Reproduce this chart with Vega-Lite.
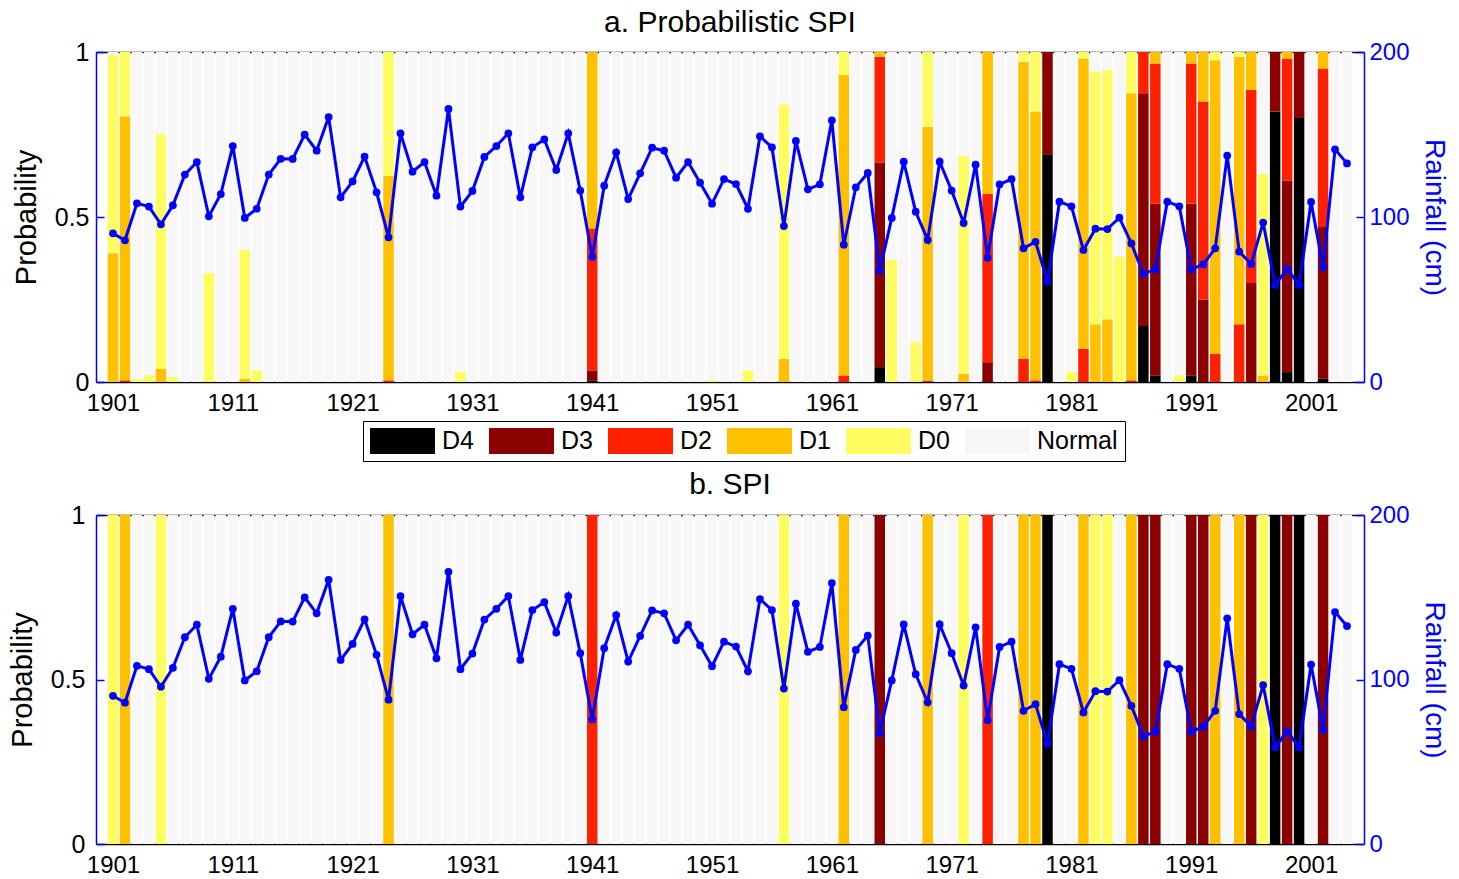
{
  "$schema": "https://vega.github.io/schema/vega-lite/v6.json",
  "padding": {"left": 8, "top": 8, "right": 12, "bottom": 0},
  "spacing": 8,
  "config": {
    "font": "Liberation Sans",
    "view": {"stroke": null},
    "axis": {"grid": false, "labelFont": "Liberation Sans", "titleFont": "Liberation Sans", "titleFontWeight": "normal", "labelFlush": false, "labelOverlap": false},
    "title": {"font": "Liberation Sans", "fontWeight": "normal", "fontSize": 30, "color": "black"}
  },
  "datasets": {
    "rain": [
      {"year":1901,"rain":90.1},{"year":1902,"rain":85.9},{"year":1903,"rain":108.3},{"year":1904,"rain":106.3},{"year":1905,"rain":95.6},
      {"year":1906,"rain":107.1},{"year":1907,"rain":125.7},{"year":1908,"rain":133.3},{"year":1909,"rain":100.4},{"year":1910,"rain":113.9},
      {"year":1911,"rain":143.0},{"year":1912,"rain":99.4},{"year":1913,"rain":105.0},{"year":1914,"rain":125.7},{"year":1915,"rain":135.3},
      {"year":1916,"rain":135.2},{"year":1917,"rain":149.9},{"year":1918,"rain":140.2},{"year":1919,"rain":160.6},{"year":1920,"rain":111.9},
      {"year":1921,"rain":121.6},{"year":1922,"rain":136.6},{"year":1923,"rain":115.0},{"year":1924,"rain":87.7},{"year":1925,"rain":150.7},
      {"year":1926,"rain":127.5},{"year":1927,"rain":133.3},{"year":1928,"rain":112.9},{"year":1929,"rain":165.5},{"year":1930,"rain":106.3},
      {"year":1931,"rain":115.8},{"year":1932,"rain":136.4},{"year":1933,"rain":143.0},{"year":1934,"rain":150.7},{"year":1935,"rain":111.9},
      {"year":1936,"rain":142.2},{"year":1937,"rain":147.0},{"year":1938,"rain":128.5},{"year":1939,"rain":150.7},{"year":1940,"rain":116.0},
      {"year":1941,"rain":75.9},{"year":1942,"rain":119.0},{"year":1943,"rain":139.2},{"year":1944,"rain":110.9},{"year":1945,"rain":126.5},
      {"year":1946,"rain":142.0},{"year":1947,"rain":140.2},{"year":1948,"rain":123.8},{"year":1949,"rain":133.3},{"year":1950,"rain":120.8},
      {"year":1951,"rain":108.1},{"year":1952,"rain":123.0},{"year":1953,"rain":120.0},{"year":1954,"rain":105.0},{"year":1955,"rain":148.9},
      {"year":1956,"rain":142.2},{"year":1957,"rain":94.5},{"year":1958,"rain":146.1},{"year":1959,"rain":116.8},{"year":1960,"rain":119.8},
      {"year":1961,"rain":158.6},{"year":1962,"rain":83.2},{"year":1963,"rain":118.0},{"year":1964,"rain":126.7},{"year":1965,"rain":67.5},
      {"year":1966,"rain":99.4},{"year":1967,"rain":133.5},{"year":1968,"rain":103.2},{"year":1969,"rain":86.1},{"year":1970,"rain":133.5},
      {"year":1971,"rain":116.0},{"year":1972,"rain":96.4},{"year":1973,"rain":131.7},{"year":1974,"rain":75.3},{"year":1975,"rain":119.8},
      {"year":1976,"rain":123.0},{"year":1977,"rain":81.0},{"year":1978,"rain":85.0},{"year":1979,"rain":60.8},{"year":1980,"rain":109.3},
      {"year":1981,"rain":106.5},{"year":1982,"rain":80.0},{"year":1983,"rain":92.9},{"year":1984,"rain":92.7},{"year":1985,"rain":99.6},
      {"year":1986,"rain":84.0},{"year":1987,"rain":65.5},{"year":1988,"rain":68.3},{"year":1989,"rain":109.3},{"year":1990,"rain":106.5},
      {"year":1991,"rain":68.3},{"year":1992,"rain":71.3},{"year":1993,"rain":81.0},{"year":1994,"rain":137.2},{"year":1995,"rain":79.0},
      {"year":1996,"rain":71.5},{"year":1997,"rain":96.6},{"year":1998,"rain":58.8},{"year":1999,"rain":68.5},{"year":2000,"rain":58.8},
      {"year":2001,"rain":109.1},{"year":2002,"rain":69.5},{"year":2003,"rain":141.0},{"year":2004,"rain":132.5}
    ],
    "prob": [
      {"year":1901,"cat":"D1","p":0.39},{"year":1901,"cat":"D0","p":0.60},
      {"year":1902,"cat":"D2","p":0.005},{"year":1902,"cat":"D1","p":0.80},{"year":1902,"cat":"D0","p":0.195},
      {"year":1903,"cat":"D0","p":0.008},
      {"year":1904,"cat":"D0","p":0.02},
      {"year":1905,"cat":"D1","p":0.04},{"year":1905,"cat":"D0","p":0.71},
      {"year":1906,"cat":"D0","p":0.015},
      {"year":1909,"cat":"D0","p":0.33},
      {"year":1912,"cat":"D1","p":0.01},{"year":1912,"cat":"D0","p":0.39},
      {"year":1913,"cat":"D0","p":0.035},
      {"year":1924,"cat":"D2","p":0.005},{"year":1924,"cat":"D1","p":0.62},{"year":1924,"cat":"D0","p":0.375},
      {"year":1930,"cat":"D0","p":0.03},
      {"year":1941,"cat":"D4","p":0.005},{"year":1941,"cat":"D3","p":0.03},{"year":1941,"cat":"D2","p":0.43},{"year":1941,"cat":"D1","p":0.535},
      {"year":1951,"cat":"D0","p":0.005},
      {"year":1954,"cat":"D0","p":0.035},
      {"year":1957,"cat":"D1","p":0.07},{"year":1957,"cat":"D0","p":0.77},
      {"year":1962,"cat":"D2","p":0.02},{"year":1962,"cat":"D1","p":0.91},{"year":1962,"cat":"D0","p":0.07},
      {"year":1965,"cat":"D4","p":0.045},{"year":1965,"cat":"D3","p":0.62},{"year":1965,"cat":"D2","p":0.32},{"year":1965,"cat":"D1","p":0.015},
      {"year":1966,"cat":"D0","p":0.37},
      {"year":1968,"cat":"D0","p":0.12},
      {"year":1969,"cat":"D2","p":0.003},{"year":1969,"cat":"D1","p":0.77},{"year":1969,"cat":"D0","p":0.227},
      {"year":1972,"cat":"D1","p":0.025},{"year":1972,"cat":"D0","p":0.66},
      {"year":1974,"cat":"D3","p":0.06},{"year":1974,"cat":"D2","p":0.51},{"year":1974,"cat":"D1","p":0.43},
      {"year":1977,"cat":"D2","p":0.07},{"year":1977,"cat":"D1","p":0.90},{"year":1977,"cat":"D0","p":0.03},
      {"year":1978,"cat":"D2","p":0.005},{"year":1978,"cat":"D1","p":0.815},{"year":1978,"cat":"D0","p":0.18},
      {"year":1979,"cat":"D4","p":0.69},{"year":1979,"cat":"D3","p":0.31},
      {"year":1981,"cat":"D0","p":0.03},
      {"year":1982,"cat":"D2","p":0.10},{"year":1982,"cat":"D1","p":0.88},{"year":1982,"cat":"D0","p":0.02},
      {"year":1983,"cat":"D1","p":0.175},{"year":1983,"cat":"D0","p":0.765},
      {"year":1984,"cat":"D1","p":0.19},{"year":1984,"cat":"D0","p":0.755},
      {"year":1985,"cat":"D0","p":0.38},
      {"year":1986,"cat":"D2","p":0.005},{"year":1986,"cat":"D1","p":0.87},{"year":1986,"cat":"D0","p":0.125},
      {"year":1987,"cat":"D4","p":0.17},{"year":1987,"cat":"D3","p":0.705},{"year":1987,"cat":"D2","p":0.125},
      {"year":1988,"cat":"D4","p":0.02},{"year":1988,"cat":"D3","p":0.52},{"year":1988,"cat":"D2","p":0.425},{"year":1988,"cat":"D1","p":0.035},
      {"year":1990,"cat":"D0","p":0.02},
      {"year":1991,"cat":"D4","p":0.02},{"year":1991,"cat":"D3","p":0.52},{"year":1991,"cat":"D2","p":0.425},{"year":1991,"cat":"D1","p":0.035},
      {"year":1992,"cat":"D3","p":0.25},{"year":1992,"cat":"D2","p":0.60},{"year":1992,"cat":"D1","p":0.15},
      {"year":1993,"cat":"D2","p":0.085},{"year":1993,"cat":"D1","p":0.89},{"year":1993,"cat":"D0","p":0.025},
      {"year":1995,"cat":"D2","p":0.175},{"year":1995,"cat":"D1","p":0.81},{"year":1995,"cat":"D0","p":0.015},
      {"year":1996,"cat":"D3","p":0.30},{"year":1996,"cat":"D2","p":0.585},{"year":1996,"cat":"D1","p":0.115},
      {"year":1997,"cat":"D1","p":0.02},{"year":1997,"cat":"D0","p":0.61},
      {"year":1998,"cat":"D4","p":0.82},{"year":1998,"cat":"D3","p":0.18},
      {"year":1999,"cat":"D4","p":0.03},{"year":1999,"cat":"D3","p":0.58},{"year":1999,"cat":"D2","p":0.37},{"year":1999,"cat":"D1","p":0.02},
      {"year":2000,"cat":"D4","p":0.80},{"year":2000,"cat":"D3","p":0.20},
      {"year":2002,"cat":"D4","p":0.01},{"year":2002,"cat":"D3","p":0.46},{"year":2002,"cat":"D2","p":0.48},{"year":2002,"cat":"D1","p":0.05}
    ],
    "spi": [
      {"year":1901,"cat":"D0"},{"year":1902,"cat":"D1"},{"year":1905,"cat":"D0"},{"year":1924,"cat":"D1"},{"year":1941,"cat":"D2"},
      {"year":1957,"cat":"D0"},{"year":1962,"cat":"D1"},{"year":1965,"cat":"D3"},{"year":1969,"cat":"D1"},{"year":1972,"cat":"D0"},
      {"year":1974,"cat":"D2"},{"year":1977,"cat":"D1"},{"year":1978,"cat":"D1"},{"year":1979,"cat":"D4"},{"year":1982,"cat":"D1"},
      {"year":1983,"cat":"D0"},{"year":1984,"cat":"D0"},{"year":1986,"cat":"D1"},{"year":1987,"cat":"D3"},{"year":1988,"cat":"D3"},
      {"year":1991,"cat":"D3"},{"year":1992,"cat":"D3"},{"year":1993,"cat":"D1"},{"year":1995,"cat":"D1"},{"year":1996,"cat":"D3"},
      {"year":1997,"cat":"D0"},{"year":1998,"cat":"D4"},{"year":1999,"cat":"D3"},{"year":2000,"cat":"D4"},{"year":2002,"cat":"D3"}
    ]
  },
  "resolve": {"scale": {"color": "independent"}, "legend": {"color": "independent"}},
  "vconcat": [
    {
      "width": 1268, "height": 330,
      "title": {"text": "a. Probabilistic SPI", "anchor": "middle", "baseline": "alphabetic", "offset": -22},
      "layer": [
        {
          "layer": [
            {
              "data": {"name": "rain"},
              "mark": {"type": "bar", "width": 10.5},
              "encoding": {
                "x": {"field": "year", "type": "quantitative", "scale": {"domain": [1900, 2005], "nice": false, "zero": false},
                      "axis": {"title": null, "values": [1901,1911,1921,1931,1941,1951,1961,1971,1981,1991,2001], "format": "d", "labelFontSize": 24, "labelColor": "black", "domainColor": "black", "domainWidth": 1.5, "tickColor": "#444444", "tickWidth": 1.5, "tickSize": -10, "labelPadding": 19}},
                "y": {"datum": 1, "type": "quantitative", "scale": {"domain": [0, 1], "nice": false},
                      "axis": {"title": "Probability", "titleFontSize": 29, "titleColor": "black", "titlePadding": 13, "values": [0, 0.5, 1], "labelExpr": "toString(datum.value)", "labelFontSize": 25, "labelColor": "black", "domainColor": "#0000ff", "domainWidth": 1.5, "tickColor": "#0000ff", "tickWidth": 1.5, "tickSize": -8, "labelPadding": 15}},
                "color": {"datum": "Normal", "type": "nominal",
                          "scale": {"domain": ["D4","D3","D2","D1","D0","Normal"], "range": ["#000000","#8b0000","#ff2000","#ffc000","#fdfd62","#f7f7f7"]},
                          "legend": {"orient": "none", "legendX": 267, "legendY": 369, "direction": "horizontal", "title": null, "symbolType": "M-1,-1H4V1H-1Z", "symbolSize": 676, "symbolStrokeWidth": 0, "symbolOpacity": 1, "labelFontSize": 25, "labelFont": "Liberation Sans", "labelColor": "black", "labelOffset": 46, "columnPadding": 15, "strokeColor": "black", "fillColor": "white", "padding": 7}}
              }
            },
            {
              "data": {"name": "prob"},
              "mark": {"type": "bar", "width": 10.5},
              "encoding": {
                "x": {"field": "year", "type": "quantitative", "scale": {"domain": [1900, 2005], "nice": false, "zero": false},
                      "axis": {"title": null, "values": [1901,1911,1921,1931,1941,1951,1961,1971,1981,1991,2001], "format": "d", "labelFontSize": 24, "labelColor": "black", "domainColor": "black", "domainWidth": 1.5, "tickColor": "#444444", "tickWidth": 1.5, "tickSize": -10, "labelPadding": 19}},
                "y": {"field": "p", "type": "quantitative", "stack": "zero", "scale": {"domain": [0, 1], "nice": false},
                      "axis": {"title": "Probability", "titleFontSize": 29, "titleColor": "black", "titlePadding": 13, "values": [0, 0.5, 1], "labelExpr": "toString(datum.value)", "labelFontSize": 25, "labelColor": "black", "domainColor": "#0000ff", "domainWidth": 1.5, "tickColor": "#0000ff", "tickWidth": 1.5, "tickSize": -8, "labelPadding": 15}},
                "color": {"field": "cat", "type": "nominal",
                          "scale": {"domain": ["D4","D3","D2","D1","D0","Normal"], "range": ["#000000","#8b0000","#ff2000","#ffc000","#fdfd62","#f7f7f7"]},
                          "legend": {"orient": "none", "legendX": 267, "legendY": 369, "direction": "horizontal", "title": null, "symbolType": "M-1,-1H4V1H-1Z", "symbolSize": 676, "symbolStrokeWidth": 0, "symbolOpacity": 1, "labelFontSize": 25, "labelFont": "Liberation Sans", "labelColor": "black", "labelOffset": 46, "columnPadding": 15, "strokeColor": "black", "fillColor": "white", "padding": 7}},
                "order": {"field": "cat", "sort": "descending"}
              }
            }
          ]
        },
        {
          "data": {"name": "rain"},
          "mark": {"type": "line", "color": "#0000ff", "strokeWidth": 3, "point": {"filled": true, "size": 60, "color": "#0000ff"}},
          "encoding": {
            "x": {"field": "year", "type": "quantitative", "scale": {"domain": [1900, 2005], "nice": false, "zero": false},
                  "axis": {"orient": "top", "title": null, "labels": false, "minExtent": 0, "maxExtent": 0, "labelPadding": 0, "values": [1901,1911,1921,1931,1941,1951,1961,1971,1981,1991,2001], "domainColor": "black", "domainWidth": 1.5, "tickColor": "#444444", "tickWidth": 1.5, "tickSize": -10}},
            "y": {"field": "rain", "type": "quantitative", "scale": {"domain": [0, 200], "nice": false},
                  "axis": {"orient": "right", "title": "Rainfall (cm)", "titleFontSize": 28, "titleColor": "#0000ff", "titlePadding": 10, "values": [0, 100, 200], "labelFontSize": 24, "labelColor": "#0000ff", "domainColor": "#0000ff", "domainWidth": 1.5, "tickColor": "#0000ff", "tickWidth": 1.5, "tickSize": -8, "labelPadding": 13}}
          }
        }
      ],
      "resolve": {"scale": {"y": "independent"}, "axis": {"x": "independent"}}
    },
    {
      "width": 1268, "height": 329,
      "title": {"text": "b. SPI", "anchor": "middle", "baseline": "alphabetic", "offset": -21},
      "layer": [
        {
          "layer": [
            {
              "data": {"name": "rain"},
              "mark": {"type": "bar", "width": 10.5},
              "encoding": {
                "x": {"field": "year", "type": "quantitative", "scale": {"domain": [1900, 2005], "nice": false, "zero": false},
                      "axis": {"title": null, "values": [1901,1911,1921,1931,1941,1951,1961,1971,1981,1991,2001], "format": "d", "labelFontSize": 24, "labelColor": "black", "domainColor": "black", "domainWidth": 1.5, "tickColor": "#444444", "tickWidth": 1.5, "tickSize": -10, "labelPadding": 19}},
                "y": {"datum": 1, "type": "quantitative", "scale": {"domain": [0, 1], "nice": false},
                      "axis": {"title": "Probability", "titleFontSize": 29, "titleColor": "black", "titlePadding": 13, "values": [0, 0.5, 1], "labelExpr": "toString(datum.value)", "labelFontSize": 25, "labelColor": "black", "domainColor": "#0000ff", "domainWidth": 1.5, "tickColor": "#0000ff", "tickWidth": 1.5, "tickSize": -8, "labelPadding": 19}},
                "color": {"datum": "Normal", "type": "nominal",
                          "scale": {"domain": ["D4","D3","D2","D1","D0","Normal"], "range": ["#000000","#8b0000","#ff2000","#ffc000","#fdfd62","#f7f7f7"]},
                          "legend": null}
              }
            },
            {
              "data": {"name": "spi"},
              "mark": {"type": "bar", "width": 10.5},
              "encoding": {
                "x": {"field": "year", "type": "quantitative", "scale": {"domain": [1900, 2005], "nice": false, "zero": false},
                      "axis": {"title": null, "values": [1901,1911,1921,1931,1941,1951,1961,1971,1981,1991,2001], "format": "d", "labelFontSize": 24, "labelColor": "black", "domainColor": "black", "domainWidth": 1.5, "tickColor": "#444444", "tickWidth": 1.5, "tickSize": -10, "labelPadding": 19}},
                "y": {"datum": 1, "type": "quantitative", "scale": {"domain": [0, 1], "nice": false},
                      "axis": {"title": "Probability", "titleFontSize": 29, "titleColor": "black", "titlePadding": 13, "values": [0, 0.5, 1], "labelExpr": "toString(datum.value)", "labelFontSize": 25, "labelColor": "black", "domainColor": "#0000ff", "domainWidth": 1.5, "tickColor": "#0000ff", "tickWidth": 1.5, "tickSize": -8, "labelPadding": 19}},
                "color": {"field": "cat", "type": "nominal",
                          "scale": {"domain": ["D4","D3","D2","D1","D0","Normal"], "range": ["#000000","#8b0000","#ff2000","#ffc000","#fdfd62","#f7f7f7"]},
                          "legend": null}
              }
            }
          ]
        },
        {
          "data": {"name": "rain"},
          "mark": {"type": "line", "color": "#0000ff", "strokeWidth": 3, "point": {"filled": true, "size": 60, "color": "#0000ff"}},
          "encoding": {
            "x": {"field": "year", "type": "quantitative", "scale": {"domain": [1900, 2005], "nice": false, "zero": false},
                  "axis": {"orient": "top", "title": null, "labels": false, "minExtent": 0, "maxExtent": 0, "labelPadding": 0, "values": [1901,1911,1921,1931,1941,1951,1961,1971,1981,1991,2001], "domainColor": "black", "domainWidth": 1.5, "tickColor": "#444444", "tickWidth": 1.5, "tickSize": -10}},
            "y": {"field": "rain", "type": "quantitative", "scale": {"domain": [0, 200], "nice": false},
                  "axis": {"orient": "right", "title": "Rainfall (cm)", "titleFontSize": 28, "titleColor": "#0000ff", "titlePadding": 10, "values": [0, 100, 200], "labelFontSize": 24, "labelColor": "#0000ff", "domainColor": "#0000ff", "domainWidth": 1.5, "tickColor": "#0000ff", "tickWidth": 1.5, "tickSize": -8, "labelPadding": 13}}
          }
        }
      ],
      "resolve": {"scale": {"y": "independent"}, "axis": {"x": "independent"}}
    }
  ]
}
